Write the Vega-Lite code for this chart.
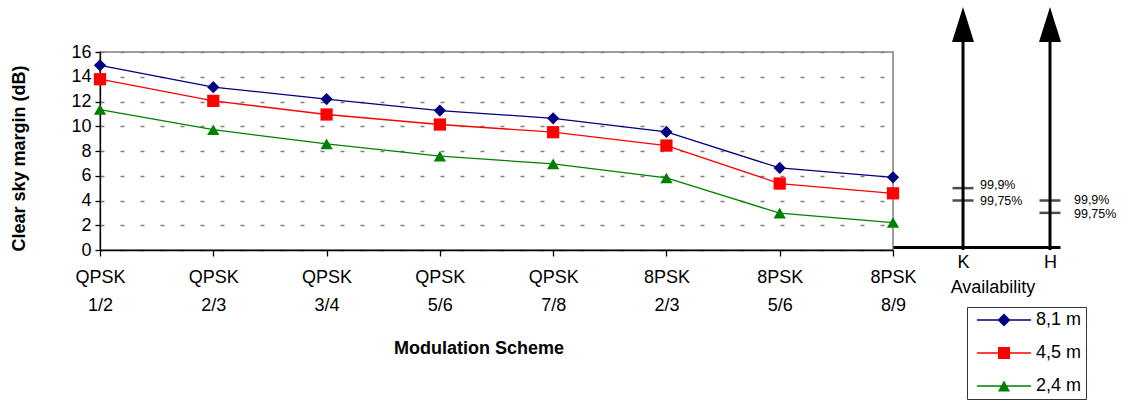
{
  "$schema": "https://vega.github.io/schema/vega-lite/v6.json",
  "width": 793,
  "height": 198,
  "padding": {"left": 10, "top": 7, "right": 5, "bottom": 2},
  "config": {
    "font": "Liberation Sans",
    "view": {"stroke": "#808080", "strokeWidth": 1.5},
    "axis": {"labelColor": "black", "titleColor": "black", "labelFont": "Liberation Sans", "titleFont": "Liberation Sans"},
    "axisY": {
      "tickCount": 10, "labelOverlap": false,
      "labelFontSize": 18, "labelPadding": 4, "tickSize": 5, "tickColor": "black", "tickWidth": 1.3,
      "domainColor": "black", "domainWidth": 1.3,
      "titleFontSize": 18, "titleFontWeight": "bold", "titlePadding": 42, "titleY": 106,
      "grid": true, "gridColor": "#808080", "gridDash": [4, 16], "gridWidth": 1.5
    },
    "legend": {"labelFont": "Liberation Sans"}
  },
  "datasets": {
    "margins": [
      {"scheme": "QPSK 1/2", "series": "8,1 m", "margin": 14.92},
      {"scheme": "QPSK 2/3", "series": "8,1 m", "margin": 13.16},
      {"scheme": "QPSK 3/4", "series": "8,1 m", "margin": 12.2},
      {"scheme": "QPSK 5/6", "series": "8,1 m", "margin": 11.27},
      {"scheme": "QPSK 7/8", "series": "8,1 m", "margin": 10.64},
      {"scheme": "8PSK 2/3", "series": "8,1 m", "margin": 9.54},
      {"scheme": "8PSK 5/6", "series": "8,1 m", "margin": 6.63},
      {"scheme": "8PSK 8/9", "series": "8,1 m", "margin": 5.87},
      {"scheme": "QPSK 1/2", "series": "4,5 m", "margin": 13.8},
      {"scheme": "QPSK 2/3", "series": "4,5 m", "margin": 12.05},
      {"scheme": "QPSK 3/4", "series": "4,5 m", "margin": 10.95},
      {"scheme": "QPSK 5/6", "series": "4,5 m", "margin": 10.14},
      {"scheme": "QPSK 7/8", "series": "4,5 m", "margin": 9.52},
      {"scheme": "8PSK 2/3", "series": "4,5 m", "margin": 8.44},
      {"scheme": "8PSK 5/6", "series": "4,5 m", "margin": 5.37},
      {"scheme": "8PSK 8/9", "series": "4,5 m", "margin": 4.58},
      {"scheme": "QPSK 1/2", "series": "2,4 m", "margin": 11.35},
      {"scheme": "QPSK 2/3", "series": "2,4 m", "margin": 9.72},
      {"scheme": "QPSK 3/4", "series": "2,4 m", "margin": 8.58},
      {"scheme": "QPSK 5/6", "series": "2,4 m", "margin": 7.58},
      {"scheme": "QPSK 7/8", "series": "2,4 m", "margin": 6.96},
      {"scheme": "8PSK 2/3", "series": "2,4 m", "margin": 5.82},
      {"scheme": "8PSK 5/6", "series": "2,4 m", "margin": 2.98},
      {"scheme": "8PSK 8/9", "series": "2,4 m", "margin": 2.22}
    ],
    "bands": [{"band": "K"}, {"band": "H"}],
    "levels": [
      {"band": "K", "level": "99,9%", "margin": 5},
      {"band": "K", "level": "99,75%", "margin": 4},
      {"band": "H", "level": "99,9%", "margin": 4},
      {"band": "H", "level": "99,75%", "margin": 3}
    ]
  },
  "layer": [
    {
      "data": {"name": "margins"},
      "resolve": {"scale": {"shape": "independent"}, "legend": {"color": "independent", "shape": "independent"}},
      "layer": [
        {
          "mark": {"type": "line", "strokeWidth": 1.3},
          "encoding": {
            "x": {
              "field": "scheme", "type": "nominal",
              "sort": ["QPSK 1/2", "QPSK 2/3", "QPSK 3/4", "QPSK 5/6", "QPSK 7/8", "8PSK 2/3", "8PSK 5/6", "8PSK 8/9"],
              "scale": {"type": "point", "padding": 0},
              "axis": {
                "orient": "bottom", "title": "Modulation Scheme", "labelAngle": 0, "labelOverlap": false,
                "labelExpr": "split(datum.label, ' ')", "labelFontSize": 18, "labelLineHeight": 28,
                "labelPadding": 12, "tickSize": 6, "tickColor": "black", "tickWidth": 1.3,
                "domainColor": "black", "domainWidth": 1.3,
                "titleFontSize": 18, "titleFontWeight": "bold", "titleX": 378.5, "titlePadding": 25
              }
            },
            "y": {
              "field": "margin", "type": "quantitative", "scale": {"domain": [0, 16]},
              "axis": {"title": "Clear sky margin (dB)", "values": [0, 2, 4, 6, 8, 10, 12, 14, 16], "tickCount": 10}
            },
            "color": {
              "field": "series", "type": "nominal",
              "scale": {"domain": ["8,1 m", "4,5 m", "2,4 m"], "range": ["#000080", "#FF0000", "#008000"]},
              "legend": null
            }
          }
        },
        {
          "mark": {"type": "point", "filled": true, "size": 150, "opacity": 1, "strokeWidth": 0},
          "encoding": {
            "x": {"field": "scheme", "type": "nominal", "sort": ["QPSK 1/2", "QPSK 2/3", "QPSK 3/4", "QPSK 5/6", "QPSK 7/8", "8PSK 2/3", "8PSK 5/6", "8PSK 8/9"]},
            "y": {"field": "margin", "type": "quantitative", "scale": {"domain": [0, 16]},
                  "axis": {"title": "Clear sky margin (dB)", "values": [0, 2, 4, 6, 8, 10, 12, 14, 16], "tickCount": 10}},
            "color": {"field": "series", "type": "nominal", "legend": null},
            "shape": {
              "field": "series", "type": "nominal",
              "scale": {"domain": ["8,1 m", "4,5 m", "2,4 m"], "range": ["diamond", "square", "triangle-up"]},
              "legend": null
            }
          }
        },
        {
          "mark": {"type": "point", "filled": true, "opacity": 0},
          "encoding": {
            "x": {"field": "scheme", "type": "nominal", "sort": ["QPSK 1/2", "QPSK 2/3", "QPSK 3/4", "QPSK 5/6", "QPSK 7/8", "8PSK 2/3", "8PSK 5/6", "8PSK 8/9"]},
            "y": {"field": "margin", "type": "quantitative", "scale": {"domain": [0, 16]},
                  "axis": {"title": "Clear sky margin (dB)", "values": [0, 2, 4, 6, 8, 10, 12, 14, 16], "tickCount": 10}},
            "color": {
              "field": "series", "type": "nominal",
              "legend": {
                "orient": "none", "legendX": 867, "legendY": 255, "title": null, "padding": 4,
                "strokeColor": "#333333", "symbolSize": 196, "symbolStrokeWidth": 0, "symbolOpacity": 1,
                "symbolOffset": 24, "labelOffset": 23, "rowPadding": 15, "labelFontSize": 18, "labelColor": "black"
              }
            },
            "shape": {
              "field": "series", "type": "nominal",
              "scale": {
                "domain": ["8,1 m", "4,5 m", "2,4 m"],
                "range": [
                  "M-3.857,-0.093H3.857V0.093H-3.857Z M0,-0.93L0.93,0L0,0.93L-0.93,0Z",
                  "M-3.857,-0.093H3.857V0.093H-3.857Z M-0.857,-0.857H0.857V0.857H-0.857Z",
                  "M-3.857,-0.093H3.857V0.093H-3.857Z M0,-0.786L0.857,0.786L-0.857,0.786Z"
                ]
              },
              "legend": {
                "orient": "none", "legendX": 867, "legendY": 255, "title": null, "padding": 4,
                "strokeColor": "#333333", "symbolSize": 196, "symbolStrokeWidth": 0, "symbolOpacity": 1,
                "symbolOffset": 24, "labelOffset": 23, "rowPadding": 15, "labelFontSize": 18, "labelColor": "black"
              }
            }
          }
        }
      ]
    },
    {
      "layer": [
        {
          "data": {"name": "bands"},
          "mark": {"type": "rule", "color": "black", "strokeWidth": 3},
          "encoding": {
            "x": {
              "field": "band", "type": "nominal",
              "scale": {"type": "point", "domain": ["K", "H"], "range": [793, 960], "padding": 0.46, "align": 0.875},
              "axis": {
                "orient": "bottom", "title": "Availability", "ticks": false, "labelAngle": 0, "offset": -3,
                "domainColor": "black", "domainWidth": 3, "labelFontSize": 18, "labelPadding": 6,
                "titleFontSize": 18, "titleFontWeight": "normal", "titlePadding": 7, "titleX": 892.5, "grid": false
              }
            },
            "y": {"datum": 0, "type": "quantitative", "scale": {"domain": [0, 16]},
                  "axis": {"title": "Clear sky margin (dB)", "values": [0, 2, 4, 6, 8, 10, 12, 14, 16], "tickCount": 10}},
            "y2": {"datum": 17}
          }
        },
        {
          "data": {"name": "bands"},
          "mark": {"type": "point", "shape": "M0,-1.59L1,1.59L-1,1.59Z", "size": 484, "filled": true, "color": "black", "opacity": 1, "strokeWidth": 0},
          "encoding": {
            "x": {"field": "band", "type": "nominal"},
            "y": {"datum": 18.22, "type": "quantitative", "scale": {"domain": [0, 16]},
                  "axis": {"title": "Clear sky margin (dB)", "values": [0, 2, 4, 6, 8, 10, 12, 14, 16], "tickCount": 10}}
          }
        },
        {
          "data": {"name": "levels"},
          "mark": {"type": "tick", "color": "black", "thickness": 2.5, "size": 21},
          "encoding": {
            "x": {"field": "band", "type": "nominal"},
            "y": {"field": "margin", "type": "quantitative", "scale": {"domain": [0, 16]},
                  "axis": {"title": "Clear sky margin (dB)", "values": [0, 2, 4, 6, 8, 10, 12, 14, 16], "tickCount": 10}}
          }
        },
        {
          "data": {"name": "levels"},
          "transform": [{"filter": "datum.band === 'K' && datum.level === '99,9%'"}],
          "mark": {"type": "text", "align": "left", "baseline": "middle", "dx": 17, "dy": -3, "fontSize": 12.5, "color": "black"},
          "encoding": {
            "x": {"field": "band", "type": "nominal"},
            "y": {"field": "margin", "type": "quantitative", "scale": {"domain": [0, 16]},
                  "axis": {"title": "Clear sky margin (dB)", "values": [0, 2, 4, 6, 8, 10, 12, 14, 16], "tickCount": 10}},
            "text": {"field": "level"}
          }
        },
        {
          "data": {"name": "levels"},
          "transform": [{"filter": "datum.band === 'K' && datum.level === '99,75%'"}],
          "mark": {"type": "text", "align": "left", "baseline": "middle", "dx": 17, "dy": 0, "fontSize": 12.5, "color": "black"},
          "encoding": {
            "x": {"field": "band", "type": "nominal"},
            "y": {"field": "margin", "type": "quantitative", "scale": {"domain": [0, 16]},
                  "axis": {"title": "Clear sky margin (dB)", "values": [0, 2, 4, 6, 8, 10, 12, 14, 16], "tickCount": 10}},
            "text": {"field": "level"}
          }
        },
        {
          "data": {"name": "levels"},
          "transform": [{"filter": "datum.band === 'H' && datum.level === '99,9%'"}],
          "mark": {"type": "text", "align": "left", "baseline": "middle", "dx": 24, "dy": -1, "fontSize": 12.5, "color": "black"},
          "encoding": {
            "x": {"field": "band", "type": "nominal"},
            "y": {"field": "margin", "type": "quantitative", "scale": {"domain": [0, 16]},
                  "axis": {"title": "Clear sky margin (dB)", "values": [0, 2, 4, 6, 8, 10, 12, 14, 16], "tickCount": 10}},
            "text": {"field": "level"}
          }
        },
        {
          "data": {"name": "levels"},
          "transform": [{"filter": "datum.band === 'H' && datum.level === '99,75%'"}],
          "mark": {"type": "text", "align": "left", "baseline": "middle", "dx": 24, "dy": 1.5, "fontSize": 12.5, "color": "black"},
          "encoding": {
            "x": {"field": "band", "type": "nominal"},
            "y": {"field": "margin", "type": "quantitative", "scale": {"domain": [0, 16]},
                  "axis": {"title": "Clear sky margin (dB)", "values": [0, 2, 4, 6, 8, 10, 12, 14, 16], "tickCount": 10}},
            "text": {"field": "level"}
          }
        }
      ]
    }
  ],
  "resolve": {"scale": {"x": "independent"}, "axis": {"x": "independent"}}
}
